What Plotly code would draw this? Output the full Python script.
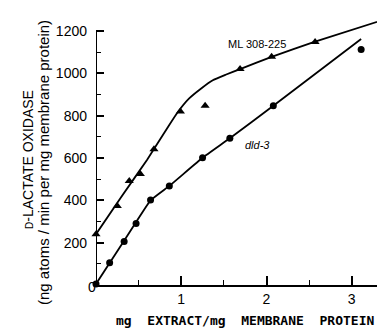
import plotly.graph_objects as go

# ML 308-225 (triangles)
ml_x = [0, 0.25, 0.39, 0.52, 0.68, 0.99, 1.28, 1.69, 2.06, 2.57]
ml_y = [240, 373, 491, 524, 641, 819, 847, 1020, 1078, 1148]
# drawn curve for ML 308-225
ml_fit_x = [0, 0.3, 0.6, 0.85, 0.96, 1.09, 1.23, 1.37, 1.52, 1.69, 2.06, 2.57, 3.39]
ml_fit_y = [240, 418, 592, 750, 817, 880, 927, 967, 993, 1020, 1078, 1150, 1255]

# dld-3 (circles)
dld_x = [0, 0.16, 0.33, 0.47, 0.64, 0.86, 1.25, 1.57, 2.08, 3.11]
dld_y = [5, 105, 205, 291, 401, 468, 601, 693, 847, 1113]
# drawn curve for dld-3
dld_fit_x = [0, 0.32, 0.64, 0.86, 1.25, 1.57, 2.08, 3.11]
dld_fit_y = [5, 203, 400, 468, 601, 693, 847, 1162]

y_ticks = [0, 200, 400, 600, 800, 1000, 1200]
y_ticktext = ["", "200", "400", "600", "800", "1000", "1200"]
x_ticks = [0, 1, 2, 3]
x_ticktext = ["", "1", "2", "3"]

# page body has an 8px margin; plot area targets: x 96..385, y 10..285
OFF = 8
L, T, R, B = 96, 10, 385, 285
PW, PH = R - L, B - T


def px(xp):
    return (xp - L) / PW


def py(yp):
    return (B - yp) / PH


fig = go.Figure()
fig.add_trace(go.Scatter(x=ml_fit_x, y=ml_fit_y, mode="lines",
                         line=dict(color="black", width=1.8, shape="spline", smoothing=0.3),
                         hoverinfo="skip", cliponaxis=False))
fig.add_trace(go.Scatter(x=dld_fit_x, y=dld_fit_y, mode="lines",
                         line=dict(color="black", width=1.8, shape="spline", smoothing=0.3),
                         hoverinfo="skip", cliponaxis=False))
fig.add_trace(go.Scatter(x=ml_x, y=ml_y, mode="markers",
                         marker=dict(symbol="triangle-up", size=8, color="black"),
                         cliponaxis=False))
fig.add_trace(go.Scatter(x=dld_x, y=dld_y, mode="markers",
                         marker=dict(symbol="circle", size=7, color="black"),
                         cliponaxis=False))

# y axis line only up to 1200
fig.add_shape(type="line", x0=0, x1=0, y0=0, y1=1200, xref="x", yref="y",
              line=dict(color="black", width=2))

fig.update_layout(
    width=385 - OFF, height=328 - OFF,
    margin=dict(l=L - OFF, r=0, t=T - OFF, b=328 - B),
    plot_bgcolor="white", paper_bgcolor="white",
    showlegend=False,
    font=dict(family="Liberation Sans", color="black"),
    xaxis=dict(range=[0, 3.39], showgrid=False, zeroline=False,
               showline=True, linecolor="black", linewidth=2,
               tickmode="array", tickvals=x_ticks, ticktext=x_ticktext,
               ticks="inside", ticklen=9, tickwidth=1.5, tickcolor="black",
               minor=dict(dtick=0.5, ticks="inside", ticklen=5, tickwidth=1.2, tickcolor="black"),
               tickfont=dict(size=14, family="Liberation Sans", color="black"),
               automargin=False),
    yaxis=dict(range=[0, 1299], showgrid=False, zeroline=False, showline=False,
               tickmode="array", tickvals=y_ticks, ticktext=y_ticktext,
               ticks="inside", ticklen=8, tickwidth=1.5, tickcolor="black",
               minor=dict(tickvals=[100, 300, 500, 700, 900, 1100], ticks="inside",
                          ticklen=5, tickwidth=1.2, tickcolor="black"),
               ticklabelstandoff=8,
               tickfont=dict(size=14, family="Liberation Sans", color="black"),
               automargin=False),
)

fig.add_annotation(text="0", x=px(86), y=py(297), xref="paper", yref="paper", showarrow=False,
                   font=dict(size=14, family="Liberation Sans"))
fig.add_annotation(text="<b>mg  EXTRACT/mg  MEMBRANE  PROTEIN</b>",
                   x=px(245), y=py(320), xref="paper", yref="paper",
                   showarrow=False, font=dict(size=13, family="DejaVu Sans Mono", color="black"),
                   xanchor="center", yanchor="middle")
fig.add_annotation(text="<span style='font-size:10px'>D</span>-LACTATE OXIDASE",
                   x=px(28), y=py(160), xref="paper", yref="paper",
                   showarrow=False, textangle=-90, font=dict(size=14, family="Liberation Sans"),
                   xanchor="center", yanchor="middle")
fig.add_annotation(text="(ng atoms / min per mg membrane protein)",
                   x=px(43), y=py(163), xref="paper", yref="paper",
                   showarrow=False, textangle=-90, font=dict(size=15, family="Liberation Sans"),
                   xanchor="center", yanchor="middle")
fig.add_annotation(text="ML 308-225", x=1.89, y=1138, xref="x", yref="y", showarrow=False,
                   font=dict(size=11, family="Liberation Sans"))
fig.add_annotation(text="<i>dld-3</i>", x=1.9, y=660, xref="x", yref="y", showarrow=False,
                   font=dict(size=11, family="Liberation Sans"))

fig.write_html("out.html")
